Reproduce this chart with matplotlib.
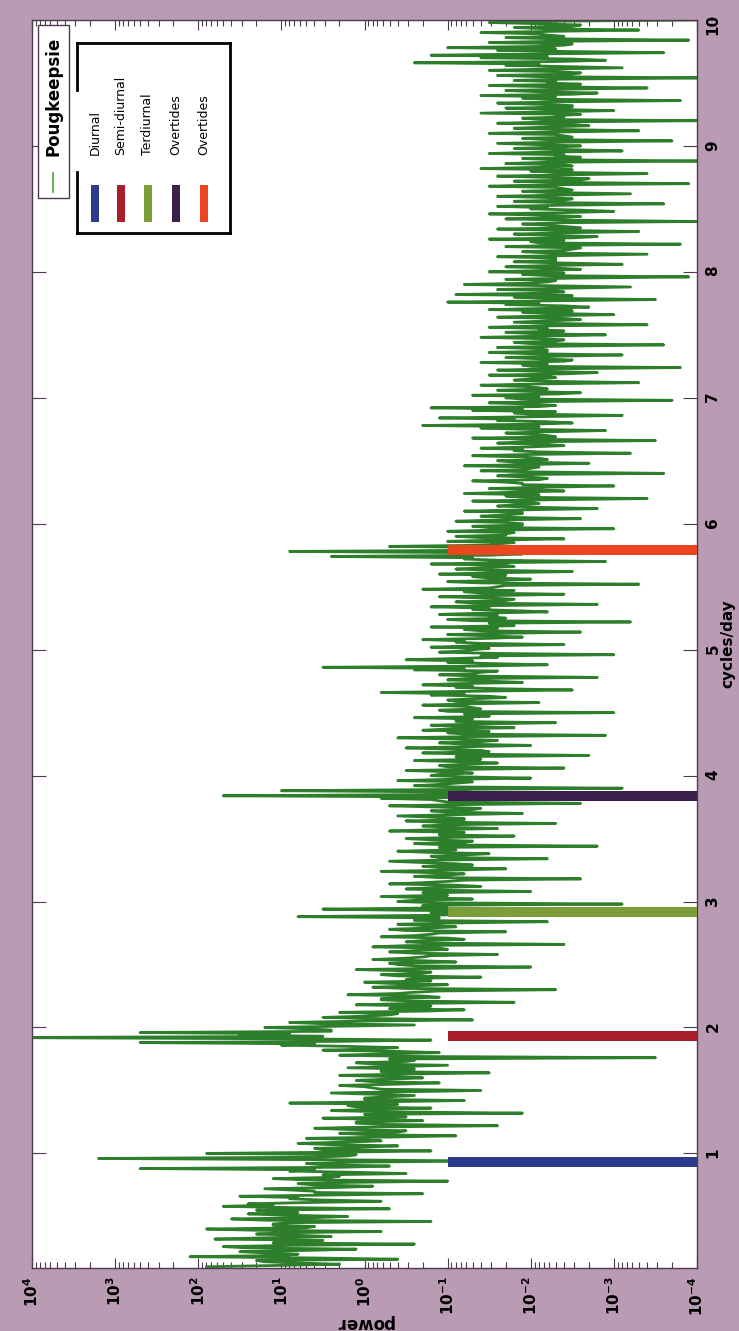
import numpy as np
import matplotlib
matplotlib.use('Agg')
import matplotlib.pyplot as plt
from matplotlib.ticker import LogLocator, FuncFormatter, NullFormatter, FixedLocator
from matplotlib.patches import Rectangle
from matplotlib.lines import Line2D

# spectrum, log10(power), every 0.01 cycles/day from 0.1 to 10
log_power = [
    1.9, 1.1, 0.3, 0.8, 1.2, 1.3, -0.4, 0.6, 2.1, 1.0, 0.8, 1.2, 1.5, 0.7, 0.1, 1.4, 1.7, 0.9, -0.6, 1.1, 1.0, 0.5, 1.8, 1.2, 0.4,
    0.8, 1.3, 1.0, -0.2, 1.3, 1.9, 0.7, 0.6, 1.1, 1.1, 0.9, -0.8, 1.2, 1.6, 0.6, 0.2, 1.0, 1.4, 0.8, 0.9, 1.3, -0.3, 0.9, 1.7, 1.1,
    1.4, 0.7, -0.2, 0.5, 0.9, 0.8, 1.5, 0.4, -0.7, 0.6, 0.6, 0.9, 1.2, 0.3, -0.1, 0.6, 0.8, 0.2, -1.0, 0.7, 1.1, 0.4, 0.3, 0.5, -0.5,
    0.1, 0.9, 0.6, 2.7, 0.3, -0.3, 0.5, 0.7, 0.2, -1.4, 0.4, 3.2, 0.6, 0.2, 0.1, 1.9, 0.3, -0.8, 0.5, 0.6, 0.0, -0.4, 0.4, 0.8, 0.2,
    -0.2, 0.1, 0.7, -0.3, -1.1, 0.0, 0.3, -0.4, -0.5, 0.2, 0.6, -0.1, -1.6, -0.3, 0.1, 0.1, -0.7, -0.2, 0.5, -0.5, -0.3, 0.0, -1.9, -0.3, 0.4,
    -0.1, -0.8, 0.1, 0.2, -0.4, 0.9, -0.2, -1.2, 0.0, 0.0, -0.3, -0.6, -0.1, 0.4, -0.5, -1.4, -0.2, -0.1, 0.0, 0.3, -0.4, -0.9, -0.1, 0.1, -0.3,
    -0.7, -0.3, 0.3, -0.5, -1.5, -0.2, -0.2, -0.6, 0.2, -0.4, -1.0, -0.1, 0.1, -0.5, -0.6, -0.3, -3.5, -0.6, 0.3, -0.2, -0.9, -0.4, 0.5, -0.1, -0.4,
    0.2, 1.0, 0.6, 2.7, 0.3, -0.8, 0.8, 4.5, 0.5, 1.5, 0.9, 2.7, 0.4, 0.4, 0.7, 1.2, 0.3, -0.6, 0.5, 0.9, 0.1, -1.3, -0.2, 0.5, 0.0,
    -0.3, -0.4, 0.3, -0.7, -1.2, -0.3, -0.4, -0.8, 0.1, -0.5, -1.8, -0.6, -0.2, -0.2, -0.9, -0.7, 0.2, -0.4, -0.6, -0.9, -2.3, -0.5, -0.1, -0.6, -1.0,
    -0.3, 0.0, -0.8, -0.5, -0.6, -1.4, -0.4, -0.2, -0.7, -0.8, -0.5, 0.1, -0.9, -2.0, -0.6, -0.4, -0.3, -1.1, -0.7, -0.1, -0.5, -0.7, -0.8, -1.6, -0.6,
    -0.3, -0.6, -1.0, -0.9, -0.1, -0.5, -2.4, -0.8, -0.5, -0.7, -1.2, -1.0, -0.2, -0.6, -0.8, -0.9, -1.7, -0.5, -0.3, -0.8, -1.1, -0.7, -0.4, -1.1, -2.2,
    -0.6, -0.6, -0.9, 0.8, -0.7, -1.4, -0.8, -3.5, -0.6, 0.5, -1.0, -0.7, -0.7, -3.1, -0.9, -0.4, -0.6, -1.3, -0.8, -0.2, -1.0, -0.9, -0.7, -2.0, -0.9,
    -0.5, -0.8, -1.4, -1.1, -0.3, -0.7, -1.0, -1.2, -2.6, -0.9, -0.6, -1.0, -1.2, -0.8, -0.2, -1.1, -1.7, -0.9, -0.7, -1.3, -1.1, -0.7, -0.3, -1.0, -2.2,
    -0.9, -0.8, -1.2, -1.5, -0.8, -0.4, -1.1, -1.0, -0.9, -2.8, -1.0, -0.6, -1.2, -1.3, -0.8, -0.5, -1.1, -1.8, -0.9, -0.9, -1.2, -0.3, -0.8, -1.6, -1.0,
    -0.7, -1.0, -2.3, -0.9, -0.5, -1.2, -1.2, -0.8, -0.4, -1.1, -1.9, -1.0, -0.8, -1.3, -1.4, -0.9, -0.3, -1.2, -2.6, -1.0, -0.9, -0.8, -0.2, -1.1, 1.7,
    -0.9, -1.5, -1.2, 1.0, -1.0, -3.1, -1.1, -0.6, -0.9, -1.1, -1.3, -0.4, -1.0, -2.0, -1.2, -0.8, -0.9, -1.3, -1.1, -0.5, -1.3, -2.4, -1.0, -0.9, -1.2,
    -1.6, -1.2, -0.6, -1.4, -1.2, -1.1, -2.7, -1.3, -0.7, -1.5, -1.4, -1.0, -0.5, -1.3, -2.0, -1.2, -0.9, -1.4, -1.6, -1.1, -0.4, -1.3, -2.9, -1.2, -1.0,
    -1.5, -0.7, -1.0, -1.8, -1.2, -0.8, -1.4, -2.3, -1.1, -1.1, -1.3, -0.6, -1.5, -1.5, -1.2, -3.0, -1.0, -0.9, -1.4, -1.3, -1.2, -0.7, -1.3, -2.1, -1.1,
    -1.0, -1.3, -1.7, -1.5, -0.8, -1.2, -0.2, -1.4, -2.5, -1.6, -1.1, -1.3, -0.7, -1.1, -1.9, -1.5, -1.0, -1.2, -2.8, -1.4, -0.9, -1.3, -1.4, -1.6, -0.6,
    -1.2, 0.5, -1.4, -2.2, -1.5, -1.0, -1.3, -0.5, -1.1, -1.6, -1.4, -3.0, -1.6, -0.9, -1.2, -1.3, -1.5, -0.8, -1.3, -2.4, -1.4, -1.1, -1.2, -0.7, -1.5,
    -1.9, -1.5, -1.0, -1.7, -2.6, -1.4, -1.2, -1.6, -0.8, -1.8, -1.7, -1.5, -3.2, -1.3, -1.0, -1.7, -1.5, -1.6, -0.9, -1.4, -2.2, -1.8, -1.3, -1.5, -0.8,
    -1.6, -2.8, -1.3, -1.1, -1.7, -1.8, -1.5, -0.9, -1.6, -2.4, -1.4, -1.2, -1.8, -0.7, -1.5, -1.6, -1.7, -3.3, -1.4, -1.0, -1.6, -2.0, -1.5, -1.3, -1.7,
    -0.9, -1.5, -2.5, -1.6, -1.1, -1.4, -1.8, -1.7, -0.8, -1.5, -2.9, -1.6, -1.2, -1.3, 0.4, -1.5, -1.9, -1.4, 0.9, -1.6, -3.3, -1.7, -0.3, -1.5, -1.6,
    -1.8, -1.0, -1.6, -2.4, -1.4, -1.1, -1.7, -1.7, -1.8, -1.0, -1.6, -3.0, -1.5, -1.3, -1.9, -1.9, -1.7, -1.1, -1.6, -2.6, -1.8, -1.4, -1.7, -1.9, -1.9,
    -1.2, -1.9, -2.8, -2.1, -1.6, -1.8, -2.1, -2.0, -1.3, -2.2, -3.4, -1.9, -1.7, -2.1, -1.2, -1.8, -2.4, -2.0, -1.5, -2.2, -3.0, -1.9, -1.9, -1.7, -1.3,
    -2.1, -2.2, -2.0, -1.6, -1.8, -3.6, -2.2, -1.4, -1.9, -2.0, -2.1, -1.2, -2.0, -2.7, -1.8, -1.6, -2.2, -2.1, -1.9, -1.3, -2.0, -3.2, -2.1, -1.8, -1.9,
    -1.4, -2.0, -2.4, -2.2, -1.6, -1.9, -3.5, -2.1, -1.3, -2.3, -2.2, -2.0, -1.7, -2.2, -2.9, -1.9, -1.4, -2.1, -0.7, -2.0, -2.5, -2.2, -1.6, -1.8, -0.9,
    -2.1, -3.1, -2.0, -1.8, -2.3, -1.3, -1.9, -0.8, -2.1, -2.3, -2.0, -1.5, -2.2, -3.7, -1.9, -1.7, -2.1, -1.3, -2.3, -2.6, -2.0, -1.6, -2.2, -2.1, -1.9,
    -1.4, -2.1, -3.3, -2.3, -1.8, -2.0, -2.3, -2.2, -1.5, -2.4, -2.8, -2.1, -1.6, -2.3, -3.8, -2.0, -1.9, -2.2, -1.4, -2.4, -2.5, -2.1, -1.7, -2.3, -3.1,
    -2.0, -1.5, -2.2, -2.2, -2.1, -1.6, -2.4, -3.6, -2.0, -1.8, -2.3, -2.4, -2.1, -1.4, -2.2, -2.9, -2.0, -1.7, -2.4, -2.1, -2.2, -1.5, -2.1, -3.4, -2.3,
    -1.8, -2.2, -2.6, -2.4, -1.6, -2.1, -3.0, -2.3, -1.9, -2.5, -1.5, -2.2, -2.7, -2.4, -1.7, -2.1, -1.0, -2.3, -3.5, -2.2, -1.8, -2.5, -1.1, -2.1, -2.4,
    -2.3, -1.6, -2.4, -3.2, -2.2, -1.2, -2.0, -2.2, -2.3, -1.7, -2.5, -3.9, -2.2, -1.9, -2.4, -1.5, -2.1, -2.6, -2.3, -1.7, -2.2, -3.1, -2.4, -1.8, -2.3,
    -2.3, -2.3, -1.6, -2.5, -3.4, -2.2, -1.9, -2.4, -2.5, -2.6, -1.7, -2.3, -3.8, -2.1, -2.0, -2.4, -1.5, -2.5, -2.8, -2.2, -1.8, -2.4, -3.3, -2.3, -1.6,
    -2.6, -2.4, -2.2, -1.9, -2.4, -4.0, -2.5, -1.7, -2.3, -2.6, -2.1, -1.5, -2.4, -3.0, -2.6, -2.0, -2.2, -1.6, -2.5, -3.6, -2.3, -1.8, -2.4, -2.5, -2.2,
    -1.6, -2.4, -3.2, -2.2, -1.9, -2.5, -2.4, -2.3, -1.5, -2.1, -3.9, -2.4, -1.8, -2.6, -2.7, -2.2, -1.6, -2.4, -3.4, -2.3, -2.0, -2.5, -1.4, -2.1, -2.5,
    -2.4, -1.7, -2.2, -4.1, -2.3, -1.9, -2.6, -2.3, -2.4, -1.5, -2.2, -3.1, -2.5, -1.8, -2.3, -2.6, -2.1, -1.6, -2.4, -3.7, -2.2, -1.9, -2.5, -2.4, -2.3,
    -1.5, -2.3, -3.3, -2.4, -1.8, -2.2, -2.7, -2.5, -1.6, -2.3, -4.0, -2.1, -1.9, -2.4, -2.3, -2.6, -1.4, -2.2, -3.0, -2.3, -1.7, -2.5, -2.5, -2.1, -1.6,
    -2.4, -3.8, -2.2, -1.9, -2.3, -1.4, -2.5, -2.8, -2.1, -1.7, -2.4, -3.4, -2.2, -1.5, -2.6, -2.2, -2.3, -1.8, -2.4, -4.1, -2.1, -1.6, -2.5, -2.6, -2.3,
    -1.5, -2.2, -3.1, -2.4, -1.7, -2.1, -0.6, -2.3, -2.9, -2.5, -1.4, -2.2, -0.8, -2.0, -3.6, -2.4, -1.6, -2.3, -1.0, -2.1, -2.4, -2.5, -1.5, -2.2, -3.9,
    -2.3, -1.7, -2.4, -2.2, -2.1, -1.4, -2.3, -3.3, -2.2, -1.8, -2.5, -2.6, -2.1, -1.5, -2.3, -4.0,
]
freq = np.linspace(0.1, 10.0, len(log_power))
power = 10.0 ** np.array(log_power)

# tidal bands
band_names = ['Diurnal', 'Semi-diurnal', 'Terdiurnal', 'Overtides', 'Overtides']
band_freq = [0.93, 1.93, 2.92, 3.84, 5.79]
band_colors = ['#2e3b8c', '#a81f2b', '#7c9e3a', '#3a1f4a', '#ea4720']
band_hi = 1e-1
band_lo = 1e-4

decades = [1e-4, 1e-3, 1e-2, 1e-1, 1e0, 1e1, 1e2, 1e3, 1e4]
freq_ticks = [1, 2, 3, 4, 5, 6, 7, 8, 9, 10]

series_name = 'Pougkeepsie'
green = '#2e7f2c'
frame = '#4e3a50'
bg = '#b99cb3'

fig = plt.figure(figsize=(7.39, 13.31), dpi=100)
fig.patch.set_facecolor(bg)
ax = fig.add_axes([0.0433, 0.0473, 0.8999, 0.9377])
ax.set_facecolor('white')

ax.plot(power, freq, color=green, lw=2.0, zorder=2)
for f, c in zip(band_freq, band_colors):
    ax.plot([band_hi, band_lo], [f, f], color=c, lw=7.2, solid_capstyle='butt', zorder=3)

ax.set_xscale('log')
ax.set_xlim(1e4, 1e-4)
ax.set_ylim(0.09, 10)

ax.xaxis.set_major_locator(FixedLocator(decades))
ax.xaxis.set_minor_locator(LogLocator(base=10, subs=np.arange(2, 10), numticks=20))
ax.xaxis.set_minor_formatter(NullFormatter())
ax.xaxis.set_major_formatter(FuncFormatter(lambda v, p: r'$\mathbf{10^{%d}}$' % round(np.log10(v))))
ax.yaxis.set_major_locator(FixedLocator(freq_ticks))

ax.tick_params(axis='x', which='both', direction='in', top=True, bottom=True, colors=frame,
               labelcolor='black', labelrotation=90, labelsize=11, pad=6)
ax.tick_params(axis='x', which='major', length=7, width=0.8)
ax.tick_params(axis='x', which='minor', length=4, width=0.8)
ax.tick_params(axis='y', direction='in', left=True, right=True, labelleft=False, labelright=True,
               labelrotation=90, labelsize=11, length=10, width=0.8, colors=frame, labelcolor='black', pad=6)
for lab in ax.get_yticklabels():
    lab.set_fontweight('bold')

for s in ax.spines.values():
    s.set_color(frame)
    s.set_linewidth(1.0)

ax.set_xlabel('power', rotation=180, fontsize=12, fontweight='bold', labelpad=-1)
ax.yaxis.set_label_position('right')
ax.set_ylabel('cycles/day', rotation=90, fontsize=11, fontweight='bold', labelpad=0)

# first legend box (data line)
tr = ax.transAxes
ax.add_patch(Rectangle((0.009, 0.857), 0.047, 0.139, transform=tr, fill=True, facecolor='white',
                       edgecolor=frame, lw=1.0, zorder=5))
ax.add_line(Line2D([0.032, 0.032], [0.862, 0.877], transform=tr, color='#4fa03a', lw=1.2, zorder=6))
ax.text(0.032, 0.891, series_name, transform=tr, rotation=90, ha='center', va='bottom',
        fontsize=12, fontweight='bold', zorder=6)

# second legend box (tidal bands), left edge has a gap
x0, x1, y0, y1 = 0.0677, 0.2977, 0.8293, 0.9816
ax.add_patch(Rectangle((x0, y0), x1 - x0, y1 - y0, transform=tr, facecolor='white', edgecolor='none', zorder=5))
for xs, ys in [([x0, x1], [y1, y1]), ([x1, x1], [y1, y0]), ([x1, x0], [y0, y0]),
               ([x0, x0], [y0, 0.878]), ([x0, x0], [0.944, y1])]:
    ax.add_line(Line2D(xs, ys, transform=tr, color='black', lw=2.0, zorder=6, solid_capstyle='projecting'))
entry_x = [0.0947, 0.1338, 0.1744, 0.2165, 0.2586]
for xe, name, c in zip(entry_x, band_names, band_colors):
    ax.add_patch(Rectangle((xe - 0.0065, 0.838), 0.013, 0.030, transform=tr, facecolor=c,
                           edgecolor='none', zorder=6))
    ax.text(xe, 0.892, name, transform=tr, rotation=90, ha='center', va='bottom', fontsize=9, zorder=6)

fig.savefig('out.png', dpi=100, facecolor=bg)
